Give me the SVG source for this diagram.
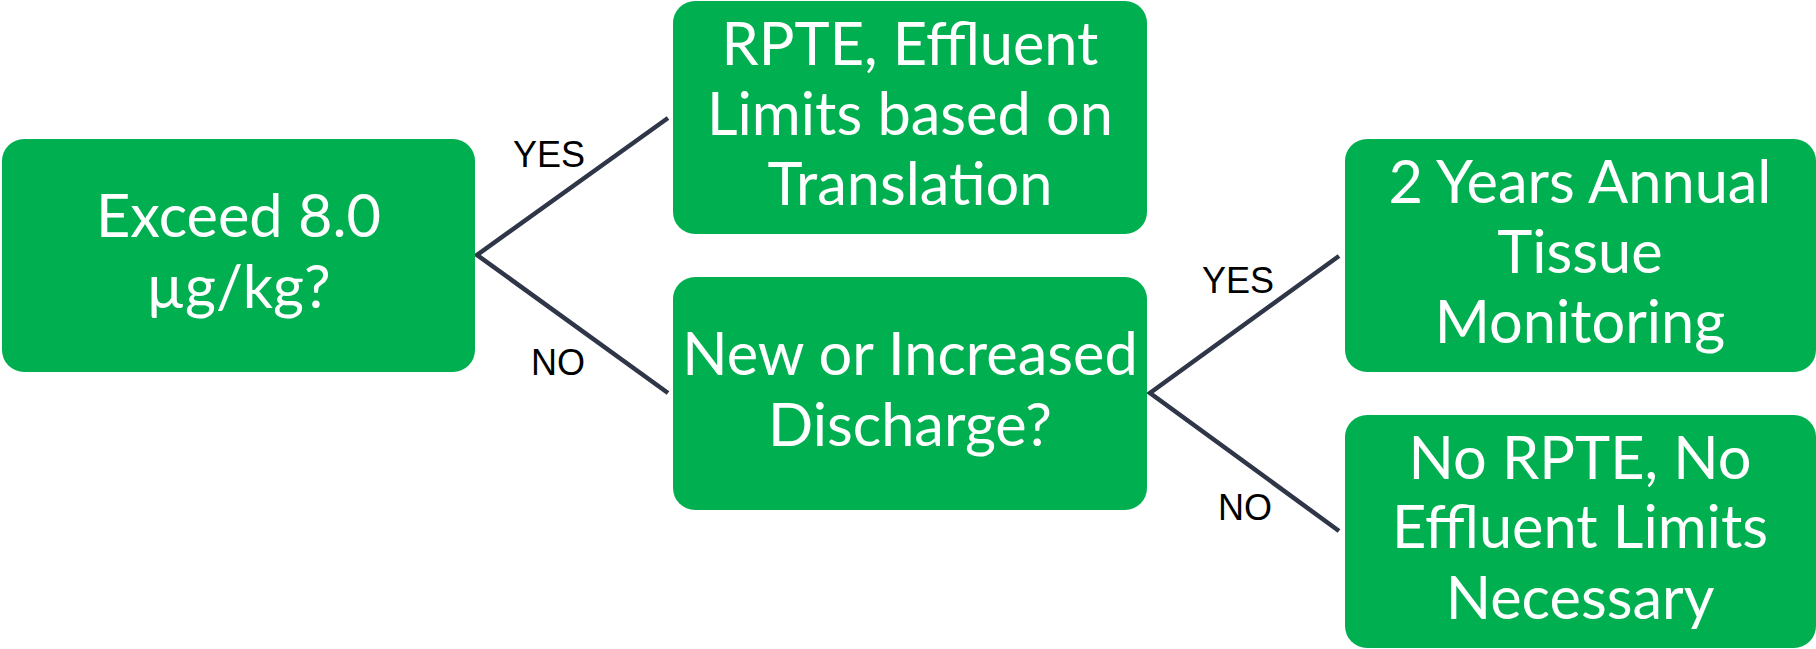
<svg xmlns="http://www.w3.org/2000/svg" width="1816" height="649" viewBox="0 0 1816 649">
  <style>
    .box { fill: #00B050; }
    .txt { font-family: Lato, "Open Sans", sans-serif; font-size: 59.5px; fill: #FFFFFF; text-anchor: middle; }
    .lbl { font-family: "Liberation Sans", Arial, sans-serif; font-size: 36px; fill: #000000; }
    .conn { fill: none; stroke: #2E3648; stroke-width: 4.5; stroke-linejoin: miter; }
  </style>
  <rect width="1816" height="649" fill="#FFFFFF"/>

  <!-- branch lines -->
  <g id="connectors">
    <path class="conn" d="M668,118 L477,255 L668,393"/>
    <path class="conn" d="M1339,256 L1150,393 L1339,531"/>
  </g>

  <!-- branch labels -->
  <g id="labels">
    <text class="lbl" x="513" y="167">YES</text>
    <text class="lbl" x="531" y="375">NO</text>
    <text class="lbl" x="1202" y="293">YES</text>
    <text class="lbl" x="1218" y="520">NO</text>
  </g>

  <g id="node-exceed">
    <rect class="box" x="2" y="139" width="473" height="233" rx="22" ry="22"/>
    <text class="txt" x="238.5" y="237">Exceed 8.0</text>
    <text class="txt" x="238.5" y="308">µg/kg?</text>
  </g>

  <g id="node-rpte">
    <rect class="box" x="673" y="1" width="474" height="233" rx="22" ry="22"/>
    <text class="txt" x="910" y="65">RPTE, Effluent</text>
    <text class="txt" x="910" y="135">Limits based on</text>
    <text class="txt" x="910" y="205">Translation</text>
  </g>

  <g id="node-discharge">
    <rect class="box" x="673" y="277" width="474" height="233" rx="22" ry="22"/>
    <text class="txt" x="910" y="375">New or Increased</text>
    <text class="txt" x="910" y="446">Discharge?</text>
  </g>

  <g id="node-monitoring">
    <rect class="box" x="1345" y="139" width="471" height="233" rx="22" ry="22"/>
    <text class="txt" x="1580" y="203">2 Years Annual</text>
    <text class="txt" x="1580" y="273">Tissue</text>
    <text class="txt" x="1580" y="343">Monitoring</text>
  </g>

  <g id="node-no-rpte">
    <rect class="box" x="1345" y="415" width="471" height="233" rx="22" ry="22"/>
    <text class="txt" x="1580" y="479">No RPTE, No</text>
    <text class="txt" x="1580" y="548">Effluent Limits</text>
    <text class="txt" x="1580" y="619">Necessary</text>
  </g>
</svg>
